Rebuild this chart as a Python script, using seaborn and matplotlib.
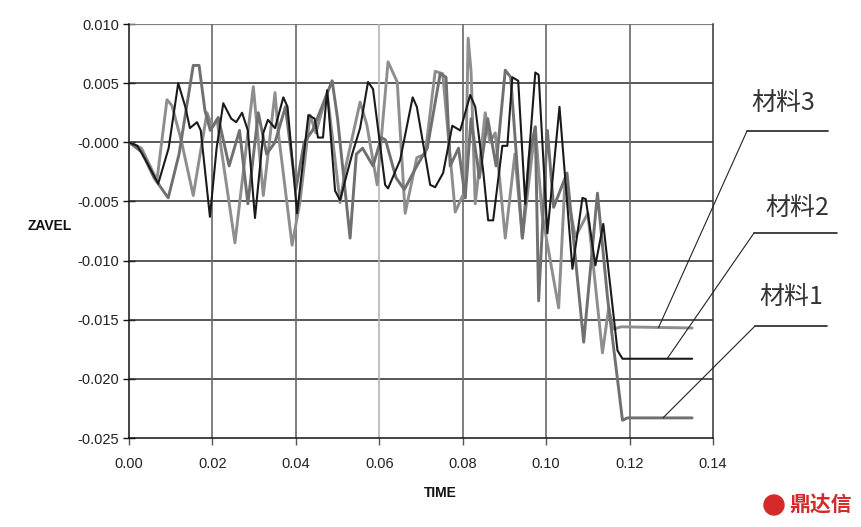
import matplotlib
matplotlib.use("Agg")
import matplotlib.pyplot as plt
import seaborn as sns
import pandas as pd
from matplotlib.lines import Line2D
from matplotlib.patches import Ellipse

# ---- data ----
t_m2 = [0, 0.002, 0.004, 0.007, 0.0095, 0.0118, 0.0135, 0.0146, 0.0163, 0.0172, 0.0194, 0.0210,
        0.0226, 0.0245, 0.0257, 0.0271, 0.0285, 0.0302, 0.0322, 0.0333, 0.0350, 0.0370, 0.0380,
        0.0403, 0.0430, 0.0445, 0.0453, 0.0465, 0.0475, 0.0494, 0.0506, 0.0520, 0.0535, 0.0554,
        0.0573, 0.0585, 0.0614, 0.0621, 0.0650, 0.0680, 0.0690, 0.0722, 0.0734, 0.0753, 0.0775,
        0.0794, 0.0818, 0.0830, 0.0849, 0.0861, 0.0873, 0.0895, 0.0907, 0.0919, 0.0933, 0.0950,
        0.0974, 0.0982, 0.1003, 0.1032, 0.1063, 0.1087, 0.1095, 0.1118, 0.1137, 0.1171, 0.1183,
        0.1350]
v_m2 = [0, -0.0003, -0.0015, -0.0035, -0.0005, 0.0050, 0.0030, 0.0012, 0.0017, 0.0010, -0.0063,
        -0.0005, 0.0033, 0.0020, 0.0017, 0.0025, 0.0010, -0.0064, 0.0008, 0.0019, 0.0012, 0.0038,
        0.0030, -0.0060, 0.0023, 0.0020, 0.0004, 0.0004, 0.0044, -0.0041, -0.0049, -0.0030,
        -0.0010, 0.0012, 0.0051, 0.0045, -0.0036, -0.0039, -0.0015, 0.0038, 0.0030, -0.0036,
        -0.0038, -0.0026, 0.0014, 0.0010, 0.0040, 0.0030, -0.0024, -0.0066, -0.0066, -0.0003,
        -0.0003, 0.0055, 0.0052, -0.0052, 0.0059, 0.0057, -0.0077, 0.0030, -0.0107, -0.0047,
        -0.0048, -0.0104, -0.0069, -0.0176, -0.0183, -0.0183]

t_m3 = [0, 0.003, 0.0067, 0.0091, 0.0103, 0.0125, 0.0154, 0.0187, 0.0200, 0.0211, 0.0254, 0.0298,
        0.0322, 0.0350, 0.0358, 0.0391, 0.0410, 0.0434, 0.0448, 0.0475, 0.0506, 0.0520, 0.0554,
        0.0570, 0.0595, 0.0621, 0.0643, 0.0662, 0.0690, 0.0710, 0.0734, 0.0752, 0.0782, 0.0800,
        0.0806, 0.0813, 0.0820, 0.0830, 0.0854, 0.0865, 0.0878, 0.0902, 0.0925, 0.0943, 0.0974,
        0.0990, 0.1030, 0.1045, 0.1070, 0.1100, 0.1135, 0.1150, 0.1160, 0.1180, 0.1350]
v_m3 = [0, -0.0005, -0.0032, 0.0036, 0.0031, 0.0002, -0.0045, 0.0025, 0.0013, 0.0019, -0.0085,
        0.0047, -0.0045, 0.0042, 0.0008, -0.0087, -0.0050, 0.0023, 0.0008, 0.0042, -0.0051,
        -0.0020, 0.0034, 0.0015, -0.0036, 0.0068, 0.0051, -0.0060, -0.0013, -0.0010, 0.0060,
        0.0058, -0.0059, -0.0045, -0.0047, 0.0088, 0.0060, -0.0052, 0.0025, 0.0000, 0.0008,
        -0.0081, -0.0010, -0.0081, 0.0013, -0.0060, -0.0140, -0.0034, -0.0080, -0.0060, -0.0178,
        -0.0140, -0.0158, -0.0156, -0.0157]

t_m1 = [0, 0.003, 0.006, 0.0094, 0.0120, 0.0154, 0.0168, 0.0182, 0.0195, 0.0214, 0.0240, 0.0265,
        0.0285, 0.0310, 0.0330, 0.0350, 0.0375, 0.0400, 0.0420, 0.0440, 0.0487, 0.0500, 0.0530,
        0.0545, 0.0560, 0.0585, 0.0605, 0.0615, 0.0640, 0.0660, 0.0690, 0.0715, 0.0746, 0.0760,
        0.0770, 0.0790, 0.0806, 0.0820, 0.0840, 0.0860, 0.0880, 0.0902, 0.0915, 0.0943, 0.0960,
        0.0974, 0.0982, 0.1003, 0.1018, 0.1050, 0.1090, 0.1123, 0.1147, 0.1183, 0.1195, 0.1350]
v_m1 = [0, -0.0008, -0.0030, -0.0047, -0.0010, 0.0065, 0.0065, 0.0027, 0.0010, 0.0021, -0.0020,
        0.0010, -0.0052, 0.0025, -0.0010, 0.0000, 0.0030, -0.0040, 0.0000, 0.0010, 0.0052,
        0.0020, -0.0081, -0.0010, -0.0005, -0.0020, 0.0004, 0.0002, -0.0030, -0.0040, -0.0020,
        -0.0005, 0.0058, 0.0055, -0.0020, -0.0005, -0.0047, 0.0020, -0.0030, 0.0020, -0.0020,
        0.0061, 0.0055, -0.0081, -0.0010, 0.0013, -0.0134, 0.0010, -0.0055, -0.0026, -0.0169,
        -0.0043, -0.0131, -0.0235, -0.0233, -0.0233]

series_names = ["材料1", "材料2", "材料3"]
x_ticks = [0.00, 0.02, 0.04, 0.06, 0.08, 0.10, 0.12, 0.14]
x_ticklabels = ["0.00", "0.02", "0.04", "0.06", "0.08", "0.10", "0.12", "0.14"]
y_ticks = [0.010, 0.005, 0.0, -0.005, -0.010, -0.015, -0.020, -0.025]
y_ticklabels = ["0.010", "0.005", "-0.000", "-0.005", "-0.010", "-0.015", "-0.020", "-0.025"]

df = pd.concat([
    pd.DataFrame({"TIME": t_m1, "ZAVEL": v_m1, "mat": series_names[0]}),
    pd.DataFrame({"TIME": t_m2, "ZAVEL": v_m2, "mat": series_names[1]}),
    pd.DataFrame({"TIME": t_m3, "ZAVEL": v_m3, "mat": series_names[2]}),
], ignore_index=True)

sns.set_style("white")
narrow = ["Liberation Sans", "DejaVu Sans"]
cjk = ["Noto Sans CJK SC", "DejaVu Sans"]

W, H = 862, 527
fig = plt.figure(figsize=(W / 100, H / 100), dpi=100)
ax = fig.add_axes([129 / W, 1 - 438 / H, (713 - 129) / W, (438 - 24) / H])

palette = {"材料1": "#707070", "材料2": "#1a1a1a", "材料3": "#8e8e8e"}
widths = {"材料1": 2.1, "材料2": 1.5, "材料3": 2.1}
for name in ["材料3", "材料1", "材料2"]:
    sub = df[df["mat"] == name]
    sns.lineplot(data=sub, x="TIME", y="ZAVEL", color=palette[name], estimator=None,
                 sort=False, linewidth=widths[name], legend=False, ax=ax, zorder=3)

ax.set_xlim(0, 0.14)
ax.set_ylim(-0.025, 0.010)
ax.set_xticks(x_ticks)
ax.set_xticklabels(x_ticklabels, fontfamily=narrow, fontsize=10.5, color="#222")
ax.set_yticks(y_ticks)
ax.set_yticklabels(y_ticklabels, fontfamily=narrow, fontsize=10.5, color="#222")

# grid lines
for yv in y_ticks[1:-1]:
    ax.axhline(yv, color="#2a2a2a", lw=1.1, zorder=1)
ax.axhline(0.010, color="#808080", lw=1.6, zorder=1)
for xv in x_ticks[1:-1]:
    ax.axvline(xv, color="#6a6a6a" if xv != 0.06 else "#b5b5b5", lw=1.2, zorder=1)

ax.spines["top"].set_visible(False)
ax.spines["right"].set_color("#333")
ax.spines["left"].set_color("#111")
ax.spines["bottom"].set_color("#111")
for s in ["left", "bottom", "right"]:
    ax.spines[s].set_linewidth(1.1)

ax.tick_params(axis="y", direction="inout", length=8, width=1, color="#111", pad=3, left=True)
ax.tick_params(axis="x", direction="out", length=5, width=1, color="#555", pad=9, bottom=True)

ax.set_xlabel("")
ax.set_ylabel("")
fig.text(440 / W, 1 - 493 / H, "TIME", ha="center", va="center", fontfamily=narrow,
         fontsize=10, fontweight="bold", color="#111")
fig.text(50 / W, 1 - 226 / H, "ZAVEL", ha="center", va="center", fontfamily=narrow,
         fontsize=10, fontweight="bold", color="#111")

# annotations: label, underline, leader line
ann = [
    ("材料3", (0.1269, -0.0157), (747, 131), (828, 131), (783, 103)),
    ("材料2", (0.1290, -0.0183), (754, 233), (837, 233), (797, 208)),
    ("材料1", (0.1280, -0.0233), (755, 326), (827, 326), (791, 297)),
]
for label, pt, p0, p1, tp in ann:
    ax.annotate("", xy=pt, xycoords="data",
                xytext=(p0[0], H - p0[1]), textcoords="figure pixels",
                arrowprops=dict(arrowstyle="-", color="#222", lw=0.8,
                                shrinkA=0, shrinkB=0), annotation_clip=False)
    fig.add_artist(Line2D([p0[0] / W, p1[0] / W], [1 - p0[1] / H, 1 - p1[1] / H],
                          color="#222", lw=1.2))
    fig.text(tp[0] / W, 1 - tp[1] / H, label, ha="center", va="center",
             fontfamily=cjk, fontsize=18, color="#333")

# watermark
fig.add_artist(Ellipse((774 / W, 1 - 505 / H), 20 / W, 20 / H, transform=fig.transFigure,
                       color="#d42a2a"))
fig.text(821 / W, 1 - 505 / H, "鼎达信", ha="center", va="center", fontfamily=cjk,
         fontsize=15, fontweight="bold", color="#d42a2a")

fig.savefig("out.png", dpi=100)
